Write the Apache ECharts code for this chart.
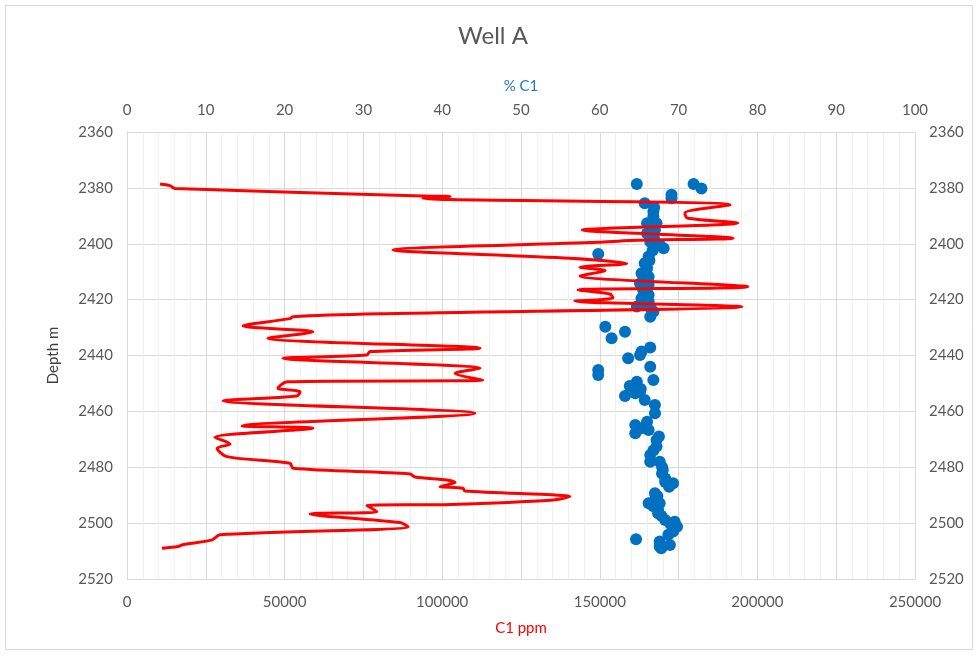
<!DOCTYPE html>
<html><head><meta charset="utf-8">
<script src="https://cdn.jsdelivr.net/npm/echarts@6/dist/echarts.min.js"></script>
<style>html,body{margin:0;padding:0;background:#fff}#c{width:978px;height:657px}</style>
</head><body><div id="c"></div>
<script>
// ---- data ----
const chartTitle = 'Well A';
const depthTicks = [2360, 2380, 2400, 2420, 2440, 2460, 2480, 2500, 2520];
const ppmTicks = [0, 50000, 100000, 150000, 200000, 250000];
const pctTicks = [0, 10, 20, 30, 40, 50, 60, 70, 80, 90, 100];

// C1 ppm log (red line), in drawing order
const c1Ppm = [10500, 13600, 15200, 93900, 102500, 93900, 102500, 191300, 177000, 177700,
  193800, 144400, 192300, 159600, 149400, 84400, 140500, 158600, 143700, 151700,
  143700, 197000, 143100, 153200, 154200, 142100, 195100, 80300, 52700, 51700,
  36800, 59000, 44700, 112000, 77100, 76100, 49500, 112000, 104100, 112900,
  50800, 47900, 54900, 53900, 30500, 110400, 36500, 59000, 27900, 32700,
  28600, 31700, 51700, 52700, 89800, 91400, 101500, 104100, 99300, 106600,
  107200, 140500, 135200, 103100, 76100, 79300, 58100, 86600, 89200, 29500,
  27000, 17400, 16200, 11100];
const c1Depth = [2378.6, 2379.2, 2380.2, 2382.9, 2383.1, 2383.8, 2384.2, 2386.1, 2389.0, 2390.8,
  2392.6, 2395.1, 2398.0, 2398.8, 2399.5, 2402.2, 2405.2, 2407.1, 2408.4, 2409.6,
  2411.5, 2415.4, 2416.5, 2418.0, 2419.4, 2420.5, 2422.5, 2425.1, 2426.1, 2426.8,
  2429.4, 2431.5, 2433.8, 2437.4, 2438.6, 2439.8, 2441.0, 2444.6, 2446.4, 2448.8,
  2449.4, 2451.7, 2453.0, 2454.5, 2456.2, 2460.7, 2465.2, 2466.0, 2469.3, 2471.7,
  2473.2, 2476.2, 2478.6, 2480.4, 2482.4, 2483.5, 2484.6, 2485.5, 2486.9, 2487.5,
  2488.5, 2490.5, 2491.7, 2493.3, 2493.7, 2495.9, 2496.7, 2499.8, 2501.3, 2504.2,
  2506.0, 2507.8, 2508.4, 2509.0];

// % C1 samples (blue dots)
const pctC1 = [64.7, 71.9, 72.9, 69.1, 69.1, 65.7, 66.8, 66.8, 66.0, 67.2,
  67.0, 66.0, 66.4, 66.4, 67.6, 68.1, 59.8, 66.2, 65.7, 66.0,
  65.3, 66.2, 65.1, 66.2, 65.5, 66.2, 65.3, 66.2, 64.7, 66.8,
  66.4, 60.7, 63.2, 61.5, 66.4, 65.3, 65.1, 63.6, 66.4, 59.8,
  59.8, 66.8, 64.7, 63.8, 65.1, 64.5, 63.2, 65.7, 67.0, 67.0,
  66.0, 64.5, 65.3, 66.2, 64.5, 67.2, 67.2, 66.4, 66.4, 67.6,
  67.9, 67.9, 68.3, 69.3, 68.3, 67.0, 67.0, 66.2, 67.6, 67.4,
  67.4, 68.3, 69.5, 69.8, 68.7, 64.6, 67.6, 67.6, 68.9,
  66.9, 66.5, 66.9, 66.7, 66.3, 65.8, 66.0, 65.8, 66.5, 65.2,
  67.5, 66.8, 68.0, 68.8, 67.3, 66.8, 67.8, 69.0, 69.3, 67.8];
const pctDepth = [2378.6, 2378.6, 2380.2, 2382.5, 2383.7, 2385.5, 2388.5, 2390.3, 2392.7, 2392.7,
  2395.1, 2396.3, 2397.5, 2399.3, 2400.4, 2401.6, 2403.7, 2404.6, 2407.0, 2408.8,
  2410.6, 2411.8, 2414.2, 2414.8, 2416.5, 2418.3, 2419.5, 2420.7, 2422.5, 2424.3,
  2426.1, 2429.7, 2431.5, 2433.8, 2437.1, 2438.6, 2439.8, 2441.0, 2444.0, 2445.2,
  2447.0, 2448.8, 2449.4, 2450.9, 2453.0, 2453.5, 2454.5, 2455.9, 2457.7, 2460.7,
  2463.7, 2464.9, 2466.0, 2466.7, 2467.8, 2470.2, 2472.6, 2475.6, 2478.0, 2478.0,
  2479.9, 2482.2, 2484.0, 2485.7, 2485.3, 2489.3, 2491.7, 2492.9, 2492.9, 2495.3,
  2496.5, 2498.9, 2499.5, 2501.3, 2504.2, 2505.8, 2506.6, 2508.4, 2507.8,
  2387.0, 2394.0, 2398.2, 2402.4, 2406.0, 2413.0, 2417.4, 2421.6, 2423.2, 2452.0,
  2469.0, 2474.0, 2481.0, 2487.0, 2490.3, 2494.0, 2497.4, 2500.4, 2503.0, 2509.0];

// ---- chart ----
const FONT = 'Lato';
const GRAY = '#595959';
const lineData = c1Ppm.map((v, i) => [v, c1Depth[i]]);
const dotData = pctC1.map((v, i) => [v, pctDepth[i]]);
const plain = v => String(v);

const chart = echarts.init(document.getElementById('c'), null, {renderer: 'canvas'});
const yCommon = {
  type: 'value', inverse: true,
  min: depthTicks[0], max: depthTicks[depthTicks.length - 1],
  interval: depthTicks[1] - depthTicks[0],
  axisTick: {show: false},
  axisLine: {show: true, lineStyle: {color: '#d9d9d9'}},
  axisLabel: {color: GRAY, fontFamily: FONT, fontSize: 15, margin: 14, formatter: plain}
};
chart.setOption({
  animation: false,
  textStyle: {fontFamily: FONT},
  graphic: [
    {type: 'rect', shape: {x: 5.5, y: 5.5, width: 967, height: 644},
      style: {fill: 'none', stroke: '#d9d9d9', lineWidth: 1}, silent: true, z: -10},
    {type: 'text', left: 458, top: 24, silent: true,
      style: {text: chartTitle, font: 'normal 24px Lato', fill: GRAY}}
  ],
  grid: {left: 127, right: 63, top: 132, bottom: 78, containLabel: false},
  xAxis: [
    {type: 'value', position: 'bottom', min: ppmTicks[0], max: ppmTicks[ppmTicks.length - 1],
      interval: ppmTicks[1] - ppmTicks[0],
      name: 'C1 ppm', nameLocation: 'middle', nameGap: 42,
      nameTextStyle: {color: '#ff0000', fontSize: 15, fontFamily: FONT},
      axisTick: {show: false}, splitLine: {show: false},
      axisLine: {show: true, lineStyle: {color: '#d9d9d9'}},
      axisLabel: {color: GRAY, fontFamily: FONT, fontSize: 15, margin: 16, formatter: plain}},
    {type: 'value', position: 'top', min: pctTicks[0], max: pctTicks[pctTicks.length - 1],
      interval: pctTicks[1] - pctTicks[0],
      name: '% C1', nameLocation: 'middle', nameGap: 38,
      nameTextStyle: {color: '#1f78c8', fontSize: 15, fontFamily: FONT},
      axisTick: {show: false},
      axisLine: {show: true, lineStyle: {color: '#d9d9d9'}},
      splitLine: {show: true, lineStyle: {color: '#d9d9d9', width: 1}},
      minorTick: {show: false, splitNumber: 5},
      minorSplitLine: {show: true, lineStyle: {color: '#f0f0f0', width: 1}},
      axisLabel: {color: GRAY, fontFamily: FONT, fontSize: 15, margin: 14, formatter: plain}}
  ],
  yAxis: [
    Object.assign({}, yCommon, {position: 'left', name: 'Depth m', nameLocation: 'middle', nameGap: 66,
      nameRotate: 90, nameTextStyle: {color: '#404040', fontSize: 15, fontFamily: FONT},
      splitLine: {show: true, lineStyle: {color: '#d9d9d9'}}}),
    Object.assign({}, yCommon, {position: 'right', splitLine: {show: false}})
  ],
  series: [
    {type: 'scatter', name: '% C1', xAxisIndex: 1, yAxisIndex: 0, data: dotData,
      symbol: 'circle', symbolSize: 12, itemStyle: {color: '#0070c0', opacity: 1}, z: 2},
    {type: 'line', name: 'C1 ppm', xAxisIndex: 0, yAxisIndex: 0, data: lineData,
      showSymbol: false, smooth: 0.3, lineStyle: {color: '#ff0000', width: 3}, z: 3}
  ]
});
</script></body></html>
